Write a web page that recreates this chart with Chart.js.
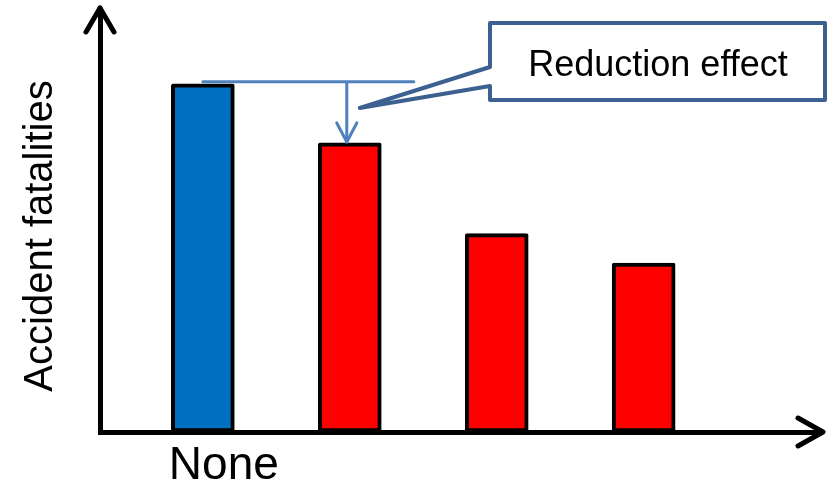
<!DOCTYPE html>
<html lang="en">
<head>
    <meta charset="UTF-8">
    <title>Reduction effect</title>
    <script src="https://cdn.jsdelivr.net/npm/chart.js"></script>
    <style>
        body { margin: 0; background: #fff; }
        #wrap { width: 828px; height: 485px; }
    </style>
</head>
<body>
    <div id="wrap"><canvas id="fatalChart"></canvas></div>

    <script>
        // data (y in arbitrary units, 0..100)
        const categories = ['None', '', '', ''];
        const fatalities = [82.5, 68.5, 47, 40];
        const barColors = ['#0070C0', '#FF0000', '#FF0000', '#FF0000'];
        const yTitle = 'Accident fatalities';
        const calloutText = 'Reduction effect';

        const FONT = '"Liberation Sans", Arial, sans-serif';

        function arrowHead(ctx, tipX, tipY, ax, ay, bx, by) {
            ctx.beginPath();
            ctx.moveTo(ax, ay);
            ctx.lineTo(tipX, tipY);
            ctx.lineTo(bx, by);
            ctx.stroke();
        }

        const decorations = {
            id: 'decorations',
            afterDraw(chart) {
                const ctx = chart.ctx;
                const area = chart.chartArea;
                const bars = chart.getDatasetMeta(0).data;
                const y = chart.scales.y;

                ctx.save();
                ctx.lineCap = 'round';
                ctx.lineJoin = 'round';

                // axis arrow heads
                ctx.strokeStyle = '#000';
                ctx.lineWidth = 5;
                ctx.beginPath();
                ctx.moveTo(area.left, area.top);
                ctx.lineTo(area.left, area.top - 2);
                ctx.stroke();
                arrowHead(ctx, area.left, area.top - 2, area.left - 14, area.top + 22, area.left + 14, area.top + 22);
                arrowHead(ctx, area.right + 3, area.bottom, area.right - 22, area.bottom - 14, area.right - 22, area.bottom + 14);

                // y axis title
                ctx.fillStyle = '#000';
                ctx.font = '40px ' + FONT;
                ctx.textAlign = 'center';
                ctx.textBaseline = 'alphabetic';
                ctx.translate(52, 236);
                ctx.rotate(-Math.PI / 2);
                ctx.fillText(yTitle, 0, 0);
                ctx.setTransform(1, 0, 0, 1, 0, 0);

                // reduction effect marker
                const topY = y.getPixelForValue(fatalities[0]) - 2;
                const secondY = y.getPixelForValue(fatalities[1]);
                const arrowX = bars[1].x - 3;
                ctx.strokeStyle = '#4F81BD';
                ctx.lineWidth = 3;
                ctx.beginPath();
                ctx.moveTo(bars[0].x, topY);
                ctx.lineTo(bars[1].x + 64, topY);
                ctx.moveTo(arrowX, topY);
                ctx.lineTo(arrowX, secondY - 1);
                ctx.stroke();
                arrowHead(ctx, arrowX, secondY - 1, arrowX - 10, secondY - 20, arrowX + 10, secondY - 20);

                // callout box
                ctx.strokeStyle = '#3C6190';
                ctx.fillStyle = '#fff';
                ctx.lineWidth = 4;
                ctx.beginPath();
                ctx.moveTo(490, 23);
                ctx.lineTo(825, 23);
                ctx.lineTo(825, 100);
                ctx.lineTo(490, 100);
                ctx.lineTo(490, 86);
                ctx.lineTo(arrowX + 13, 108);
                ctx.lineTo(490, 67);
                ctx.closePath();
                ctx.fill();
                ctx.stroke();

                ctx.fillStyle = '#000';
                ctx.font = '36px ' + FONT;
                ctx.textAlign = 'center';
                ctx.fillText(calloutText, 658, 76);
                ctx.restore();
            }
        };

        new Chart(document.getElementById('fatalChart'), {
            type: 'bar',
            data: {
                datasets: [{
                    data: fatalities.map((v, i) => ({ x: i + 1, y: v })),
                    backgroundColor: barColors,
                    borderColor: '#000',
                    borderWidth: 4,
                    borderRadius: 2,
                    borderSkipped: false,
                    barThickness: 63
                }]
            },
            options: {
                responsive: true,
                maintainAspectRatio: false,
                animation: false,
                layout: { padding: { top: 10, right: 8, bottom: 0, left: 100 } },
                plugins: {
                    legend: { display: false },
                    tooltip: { enabled: false }
                },
                scales: {
                    x: {
                        type: 'linear',
                        min: 0.3,
                        max: 5.2,
                        offset: false,
                        afterBuildTicks: scale => {
                            scale.ticks = categories.map((c, i) => ({ value: i + 1 }));
                        },
                        afterFit: scale => { scale.height = 53; },
                        grid: { display: false, drawTicks: false, offset: false },
                        border: { display: true, color: '#000', width: 5 },
                        ticks: {
                            callback: v => categories[v - 1] || '',
                            color: '#000',
                            font: { family: FONT, size: 46, lineHeight: 0.75 },
                            padding: 17,
                            labelOffset: 21,
                            maxRotation: 0,
                            autoSkip: false
                        }
                    },
                    y: {
                        min: 0,
                        max: 100,
                        grid: { display: false, drawTicks: false },
                        border: { display: true, color: '#000', width: 5 },
                        ticks: { display: false }
                    }
                }
            },
            plugins: [decorations]
        });
    </script>
</body>
</html>
